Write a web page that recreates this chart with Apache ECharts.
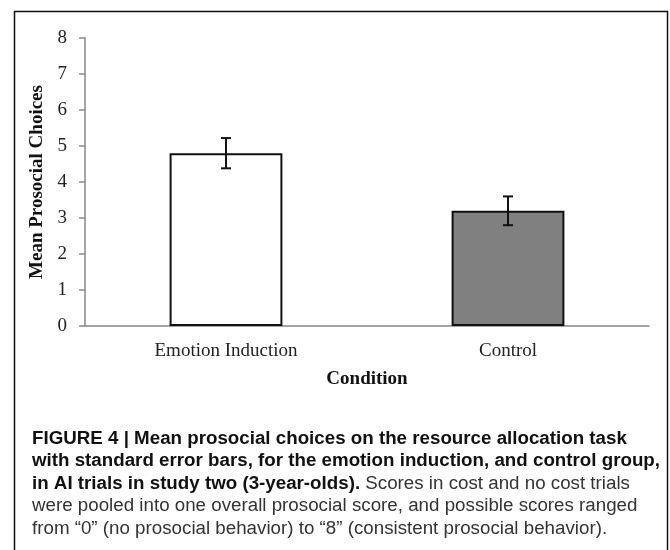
<!DOCTYPE html>
<html>
<head>
<meta charset="utf-8">
<script src="https://cdn.jsdelivr.net/npm/echarts@6/dist/echarts.min.js"></script>
<style>
html,body{margin:0;padding:0;background:#fff;}
#main{width:670px;height:550px;}
</style>
</head>
<body>
<div id="main"></div>
<script>
const categories = ['Emotion Induction', 'Control'];
const means = [4.8, 3.2];
const stdErrors = [0.42, 0.40];
const barColors = ['#ffffff', '#808080'];
const yMin = 0, yMax = 8, yStep = 1;
const yTitle = 'Mean Prosocial Choices';
const xTitle = 'Condition';
const captionLines = [
  [['b', 'FIGURE 4 | Mean prosocial choices on the resource allocation task']],
  [['b', 'with standard error bars, for the emotion induction, and control group,']],
  [['b', 'in AI trials in study two (3-year-olds).'], ['r', ' Scores in cost and no cost trials']],
  [['r', 'were pooled into one overall prosocial score, and possible scores ranged']],
  [['r', 'from \u201c0\u201d (no prosocial behavior) to \u201c8\u201d (consistent prosocial behavior).']]
];

const chart = echarts.init(document.getElementById('main'));
const serif = '"Liberation Serif", "DejaVu Serif", serif';
const sans = '"Liberation Sans", Arial, sans-serif';
const capSize = 18;

// condense caption to match reference width
const cv = document.createElement('canvas').getContext('2d');
cv.font = 'bold ' + capSize + 'px "Liberation Sans"';
const w2 = cv.measureText(captionLines[1][0][1]).width;
const sx = 628 / w2;

const captionGraphics = captionLines.map((parts, i) => ({
  type: 'text',
  x: 32,
  y: 439 + i * 22.5,
  scaleX: sx,
  style: {
    text: parts.map(p => '{' + p[0] + '|' + p[1] + '}').join(''),
    rich: {
      b: { fontFamily: sans, fontSize: capSize, fontWeight: 'bold', fill: '#111' },
      r: { fontFamily: sans, fontSize: capSize, fontWeight: 'normal', fill: '#333' }
    },
    textAlign: 'left',
    textVerticalAlign: 'middle',
    verticalAlign: 'middle'
  }
}));

const option = {
  animation: false,
  backgroundColor: '#fff',
  grid: { left: 85, right: 21, top: 38, bottom: 224, containLabel: false },
  xAxis: {
    type: 'category',
    data: categories,
    name: xTitle,
    nameLocation: 'middle',
    nameGap: 44,
    nameTextStyle: { fontFamily: serif, fontSize: 19, fontWeight: 'bold', color: '#111' },
    axisLine: { lineStyle: { color: '#878787', width: 1.5 } },
    axisTick: { show: false },
    axisLabel: { fontFamily: serif, fontSize: 19, color: '#222', margin: 16 }
  },
  yAxis: {
    type: 'value',
    min: yMin, max: yMax, interval: yStep,
    name: yTitle,
    nameLocation: 'middle',
    nameGap: 35,
    nameRotate: 90,
    nameTextStyle: { fontFamily: serif, fontSize: 19, fontWeight: 'bold', color: '#111' },
    axisLine: { show: true, lineStyle: { color: '#878787', width: 1.5 } },
    axisTick: { show: true, length: 6, lineStyle: { color: '#878787', width: 1.5 } },
    axisLabel: { fontFamily: serif, fontSize: 19, color: '#222', margin: 18 },
    splitLine: { show: false }
  },
  series: [
    {
      type: 'bar',
      barWidth: '40%',
      data: means.map((v, i) => ({
        value: v,
        itemStyle: { color: barColors[i], borderColor: '#111', borderWidth: 2 }
      }))
    },
    {
      type: 'custom',
      data: means.map((v, i) => [i, v - stdErrors[i], v + stdErrors[i]]),
      renderItem: function (params, api) {
        const lo = api.coord([api.value(0), api.value(1)]);
        const hi = api.coord([api.value(0), api.value(2)]);
        const hw = 5;
        const st = { stroke: '#111', lineWidth: 2 };
        return {
          type: 'group',
          children: [
            { type: 'line', shape: { x1: hi[0], y1: hi[1], x2: lo[0], y2: lo[1] }, style: st },
            { type: 'line', shape: { x1: hi[0] - hw, y1: hi[1], x2: hi[0] + hw, y2: hi[1] }, style: st },
            { type: 'line', shape: { x1: lo[0] - hw, y1: lo[1], x2: lo[0] + hw, y2: lo[1] }, style: st }
          ]
        };
      },
      z: 5
    }
  ],
  graphic: [
    {
      type: 'rect',
      shape: { x: 14.5, y: 11.5, width: 653, height: 560 },
      style: { fill: 'none', stroke: '#111', lineWidth: 1.5 },
      silent: true
    }
  ].concat(captionGraphics)
};
chart.setOption(option);
</script>
</body>
</html>
